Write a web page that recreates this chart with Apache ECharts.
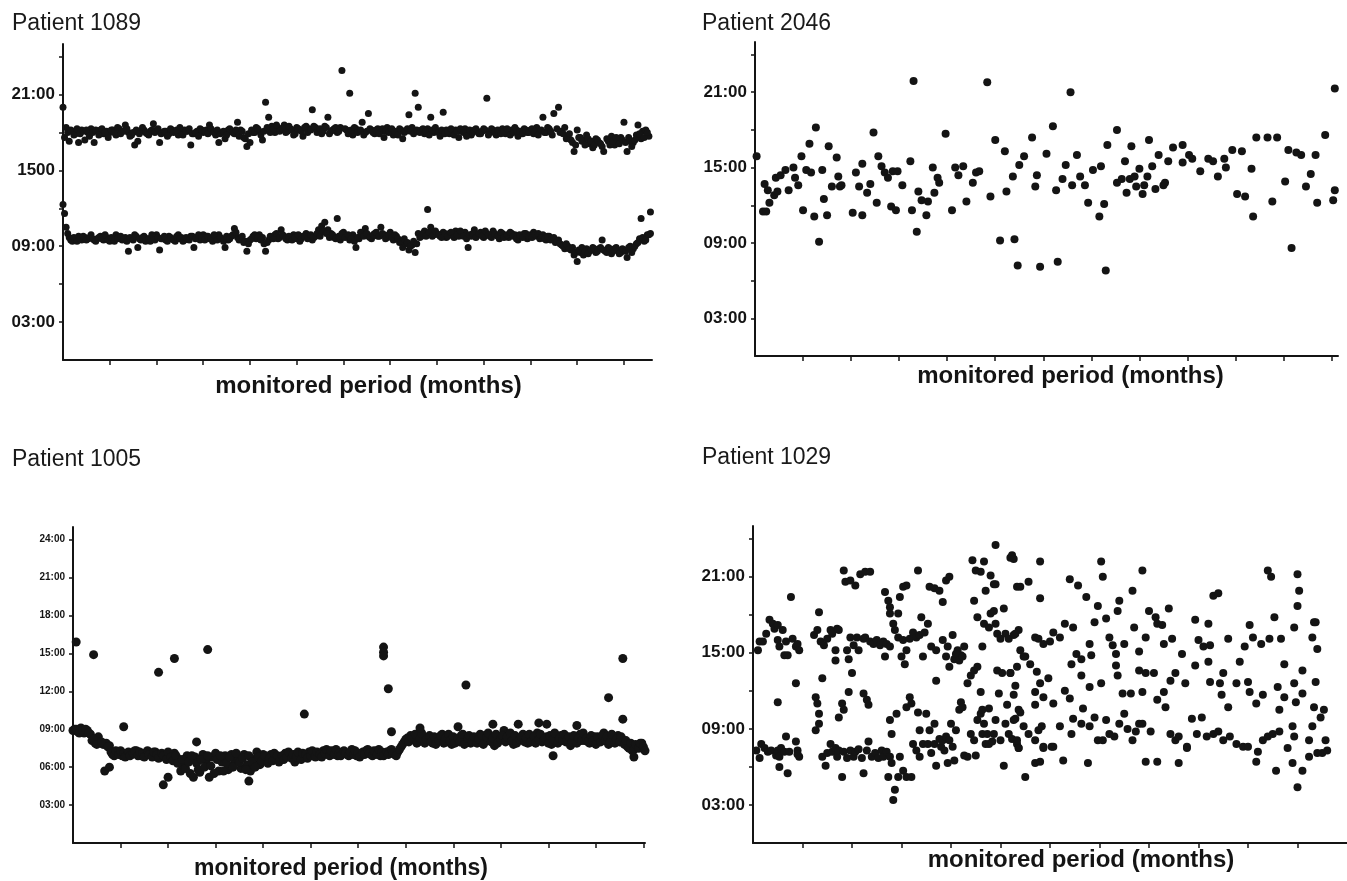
<!DOCTYPE html>
<html>
<head>
<meta charset="utf-8">
<script src="https://cdn.jsdelivr.net/npm/echarts@6/dist/echarts.min.js"></script>
<style>
html,body{margin:0;padding:0;background:#fff;}
#chart{width:1347px;height:881px;}
</style>
</head>
<body>
<div id="chart"></div>
<script>
// ---------- tick labels ----------
const monthTicks = [30,60,90,120,150,180,210,240,270,300,330,360];
const hourTicks = [3,6,9,12,15,18,21,24];
const sparseLabelHours = [3,9,15,21];
const p1HourLabels = ['03:00','09:00','1500','21:00'];
const p2HourLabels = ['03:00','09:00','15:00','21:00'];
const p4HourLabels = ['03:00','09:00','15:00','21:00'];
const p3HourLabels = ['03:00','06:00','09:00','12:00','15:00','18:00','21:00','24:00'];
const titles = ['Patient 1089','Patient 2046','Patient 1005','Patient 1029'];
const xName = 'monitored period (months)';

// ---------- data: [day of monitoring, clock hour] ----------
const p1Evening = [[0,20.0],[2,18.4],[4,17.3],[6,18.1],[8,17.9],[10,17.2],[12,18.2],[14,17.4],[16,18.0],[18,18.3],[20,17.2],[22,18.1],[24,18.2],[26,17.9],[28,18.1],[30,18.0],[32,18.2],[34,17.8],[36,18.3],[38,18.1],[40,18.6],[42,18.0],[44,17.8],[46,17.0],[48,17.3],[50,18.1],[52,18.2],[54,17.9],[56,18.1],[58,18.7],[60,18.2],[62,17.2],[64,18.0],[66,18.1],[68,17.9],[70,18.2],[72,18.1],[74,17.8],[76,18.0],[78,18.2],[80,18.1],[82,17.0],[84,17.9],[86,18.1],[88,18.3],[90,18.0],[92,18.2],[94,18.6],[96,18.1],[98,17.8],[100,17.2],[102,18.0],[104,17.5],[106,18.2],[108,18.1],[110,17.9],[112,18.8],[114,18.2],[116,17.6],[118,16.9],[120,17.2],[122,18.0],[124,18.4],[126,18.1],[128,17.4],[130,20.4],[132,19.2],[134,18.5],[136,18.0],[138,18.4],[140,18.2],[142,18.6],[144,18.1],[146,18.3],[148,17.8],[150,18.4],[152,18.2],[154,17.7],[156,18.5],[158,18.3],[160,19.8],[162,18.4],[164,18.2],[166,17.9],[168,18.5],[170,19.2],[172,18.1],[174,18.3],[176,18.0],[178,18.4],[179,22.9],[182,18.2],[184,21.1],[186,17.8],[188,18.3],[190,18.1],[192,18.8],[194,18.0],[196,19.5],[198,18.2],[200,17.9],[202,18.3],[204,18.1],[206,17.6],[208,18.4],[210,18.2],[212,17.8],[214,18.0],[216,18.3],[218,17.5],[220,18.1],[222,19.4],[224,18.4],[226,21.1],[228,20.0],[230,18.2],[232,17.9],[234,18.3],[236,19.2],[238,18.0],[240,18.1],[242,17.7],[244,19.6],[246,18.2],[248,17.9],[250,18.0],[252,18.2],[254,17.6],[256,18.1],[258,18.3],[260,18.0],[262,17.8],[264,18.2],[266,18.1],[268,17.9],[270,18.3],[272,20.7],[274,18.0],[276,18.2],[278,17.8],[280,18.1],[282,18.3],[284,17.9],[286,18.0],[288,18.2],[290,18.4],[292,17.7],[294,18.1],[296,18.3],[298,18.0],[300,18.2],[302,17.9],[304,18.4],[306,18.1],[308,19.2],[310,18.0],[312,18.3],[314,17.8],[315,19.5],[318,20.0],[320,18.1],[322,18.4],[324,17.7],[326,17.4],[328,16.5],[330,18.2],[332,17.6],[334,17.4],[336,17.8],[338,17.1],[340,16.8],[342,17.5],[344,17.2],[346,16.9],[347,16.5],[350,17.3],[352,17.7],[354,17.0],[356,17.4],[358,17.6],[360,18.8],[362,16.5],[364,17.3],[366,17.2],[368,17.8],[369,18.6],[371,17.5],[372,18.1],[374,18.2],[376,17.7]];
const p1EveningOdd = [[1,17.6],[3,18.0],[5,18.2],[7,17.8],[9,18.3],[11,17.9],[13,18.1],[15,18.2],[17,17.7],[19,18.0],[21,18.2],[23,17.8],[25,18.3],[27,18.0],[29,17.6],[31,18.2],[33,18.0],[35,18.4],[37,17.9],[39,18.1],[41,18.3],[43,17.7],[45,18.0],[47,18.2],[49,17.9],[51,18.4],[53,18.0],[55,17.8],[57,18.2],[59,18.0],[61,18.3],[63,17.9],[65,18.1],[67,17.7],[69,18.3],[71,18.0],[73,18.2],[75,18.4],[77,17.8],[79,18.1],[81,18.3],[83,17.9],[85,18.0],[87,17.7],[89,18.2],[91,18.1],[93,17.9],[95,18.3],[97,18.0],[99,18.2],[101,17.9],[103,18.1],[105,17.8],[107,18.3],[109,18.0],[111,18.2],[113,17.7],[115,18.1],[117,17.5],[119,17.9],[121,18.2],[123,18.0],[125,18.3],[127,17.8],[129,18.1],[131,18.4],[133,18.0],[135,18.3],[137,18.6],[139,18.1],[141,18.3],[143,18.0],[145,18.5],[147,18.2],[149,17.9],[151,18.3],[153,18.1],[155,18.4],[157,18.0],[159,18.2],[161,18.5],[163,18.0],[165,18.3],[167,18.1],[169,18.4],[171,17.9],[173,18.2],[175,18.4],[177,18.1],[181,18.3],[183,17.9],[185,18.2],[187,18.4],[189,18.0],[191,18.2],[193,17.8],[195,18.1],[197,18.3],[199,18.0],[201,18.2],[203,17.9],[205,18.3],[207,18.1],[209,18.0],[211,18.3],[213,18.1],[215,17.8],[217,18.2],[219,18.0],[221,18.3],[223,18.1],[225,17.9],[227,18.2],[229,18.0],[231,18.3],[233,18.1],[235,17.8],[237,18.2],[239,18.4],[241,18.0],[243,18.2],[245,17.9],[247,18.1],[249,18.3],[251,17.8],[253,18.1],[255,18.3],[257,18.0],[259,17.7],[261,18.2],[263,18.0],[265,18.3],[267,17.9],[269,18.1],[271,18.2],[273,17.8],[275,18.3],[277,18.0],[279,18.2],[281,17.9],[283,18.1],[285,18.3],[287,17.8],[289,18.0],[291,18.2],[293,18.1],[295,17.9],[297,18.2],[299,18.0],[301,18.3],[303,18.1],[305,17.8],[307,18.2],[309,18.0],[311,18.4],[313,18.1],[317,18.3],[319,18.0],[321,17.9],[323,17.5],[325,17.9],[327,17.2],[329,17.0],[331,17.6],[333,17.3],[335,17.0],[337,17.5],[339,17.3],[341,17.0],[343,17.4],[345,17.1],[349,17.5],[351,17.0],[353,17.3],[355,17.6],[357,17.1],[359,17.4],[361,17.2],[363,17.6],[365,16.9],[367,17.4],[370,17.9],[373,17.6],[375,18.0]];
const p1Morning = [[0,12.3],[1,11.6],[2,10.5],[3,10.0],[4,9.7],[6,9.4],[8,9.6],[10,9.8],[12,9.5],[14,9.7],[16,9.6],[18,9.9],[20,9.5],[22,9.6],[24,9.8],[26,9.5],[28,9.7],[30,9.4],[32,9.6],[34,9.9],[36,9.7],[38,9.5],[40,9.7],[42,8.6],[44,9.6],[46,9.9],[48,8.9],[50,9.5],[52,9.8],[54,9.6],[56,9.4],[58,9.7],[60,9.9],[62,8.7],[64,9.6],[66,9.5],[68,9.8],[70,9.6],[72,9.4],[74,9.9],[76,9.7],[78,9.5],[80,9.6],[82,9.8],[84,8.9],[86,9.7],[88,9.5],[90,9.9],[92,9.8],[94,9.6],[96,9.4],[98,9.7],[100,9.9],[102,9.6],[104,8.9],[106,9.5],[108,9.8],[110,10.4],[112,9.7],[114,9.6],[116,9.3],[118,8.6],[120,9.5],[122,9.8],[124,9.6],[126,9.9],[128,9.7],[130,8.6],[132,9.5],[134,9.7],[136,9.9],[138,9.6],[140,10.3],[142,9.8],[144,9.5],[146,9.7],[148,9.9],[150,9.6],[152,9.4],[154,9.8],[156,10.0],[158,9.7],[160,9.5],[162,9.8],[164,10.3],[166,10.6],[168,10.9],[170,10.3],[172,10.0],[174,9.7],[176,11.2],[178,9.5],[180,10.1],[182,9.8],[184,9.5],[186,9.9],[188,8.9],[190,9.6],[192,10.0],[194,10.4],[196,9.8],[198,9.6],[200,10.0],[202,9.8],[204,10.5],[206,9.9],[208,9.7],[210,10.1],[212,9.5],[214,9.8],[216,9.3],[218,8.9],[220,9.2],[222,8.7],[224,9.1],[226,8.5],[228,10.0],[230,9.8],[232,10.2],[234,11.9],[236,10.5],[238,9.9],[240,10.0],[242,9.8],[244,10.1],[246,9.7],[248,10.0],[250,9.9],[252,10.2],[254,9.8],[256,10.0],[258,10.1],[260,8.9],[262,9.8],[264,10.3],[266,9.9],[268,10.1],[270,9.7],[272,10.0],[274,9.8],[276,10.2],[278,9.9],[280,9.6],[282,10.0],[284,9.8],[286,9.7],[288,10.0],[290,9.9],[292,9.5],[294,9.8],[296,10.0],[298,9.6],[300,9.9],[302,10.1],[304,9.8],[306,9.6],[308,9.9],[310,9.5],[312,9.8],[314,9.6],[316,9.3],[318,9.5],[320,9.1],[322,8.8],[324,9.0],[326,8.7],[328,8.3],[330,7.8],[332,8.5],[334,8.3],[336,8.8],[338,8.6],[340,8.9],[342,8.5],[344,8.8],[346,9.5],[348,8.6],[350,8.9],[352,8.4],[354,8.8],[356,8.7],[358,8.5],[360,8.7],[362,8.1],[364,9.0],[366,8.8],[368,9.2],[370,9.6],[371,11.2],[373,9.4],[375,9.9],[377,11.7],[377,10.0]];
const p1MorningOdd = [[5,9.5],[7,9.7],[9,9.4],[11,9.6],[13,9.8],[15,9.5],[17,9.7],[19,9.6],[21,9.4],[23,9.7],[25,9.6],[27,9.9],[29,9.5],[31,9.7],[33,9.4],[35,9.6],[37,9.8],[39,9.6],[41,9.4],[43,9.7],[45,9.5],[47,9.8],[49,9.6],[51,9.7],[53,9.4],[55,9.6],[57,9.9],[59,9.5],[61,9.7],[63,9.6],[65,9.8],[67,9.4],[69,9.7],[71,9.5],[73,9.8],[75,9.6],[77,9.4],[79,9.7],[81,9.5],[83,9.8],[85,9.6],[87,9.9],[89,9.7],[91,9.5],[93,9.8],[95,9.6],[97,9.9],[99,9.5],[101,9.7],[103,9.4],[105,9.8],[107,9.6],[109,9.9],[111,10.1],[113,9.5],[115,9.8],[117,9.4],[119,9.2],[121,9.6],[123,9.9],[125,9.7],[127,9.5],[129,9.2],[131,9.3],[133,9.8],[135,9.6],[137,10.0],[139,9.7],[141,9.9],[143,9.6],[145,9.8],[147,9.5],[149,9.7],[151,9.9],[153,9.6],[155,9.8],[157,9.6],[159,9.9],[161,9.7],[163,10.0],[165,9.8],[167,10.2],[169,10.0],[171,9.7],[173,9.9],[175,9.6],[177,9.8],[179,10.0],[181,9.7],[183,9.9],[185,9.6],[187,9.4],[189,9.7],[191,10.1],[193,9.8],[195,10.0],[197,9.7],[199,9.9],[201,10.1],[203,9.8],[205,10.0],[207,9.6],[209,9.9],[211,9.7],[213,9.9],[215,9.6],[217,9.4],[219,9.6],[221,9.3],[223,9.0],[225,9.4],[227,9.2],[229,9.7],[231,10.0],[233,9.8],[235,10.1],[237,9.8],[239,10.2],[241,9.9],[243,9.7],[245,10.0],[247,9.8],[249,10.1],[251,9.7],[253,9.9],[255,10.2],[257,9.8],[259,9.6],[261,9.9],[263,10.0],[265,9.7],[267,10.0],[269,9.8],[271,10.2],[273,9.9],[275,9.7],[277,10.0],[279,9.8],[281,10.1],[283,9.7],[285,9.9],[287,10.1],[289,9.8],[291,9.6],[293,9.9],[295,9.7],[297,10.0],[299,9.8],[301,9.7],[303,9.9],[305,10.0],[307,9.7],[309,9.6],[311,9.8],[313,9.5],[315,9.7],[317,9.4],[319,9.2],[321,9.0],[323,9.2],[325,8.8],[327,8.9],[329,8.5],[331,8.7],[333,8.9],[335,8.6],[337,8.4],[339,8.7],[341,8.8],[343,8.6],[345,8.9],[347,8.7],[349,8.5],[351,8.8],[353,8.6],[355,8.9],[357,8.4],[359,8.8],[361,8.6],[363,8.9],[365,8.5],[367,9.0],[369,9.3],[372,9.7],[374,9.5],[376,9.9]];

const p2Points = [[1,15.9],[5,11.5],[7,11.5],[6,13.7],[8,13.2],[9,12.2],[12,12.8],[14,13.1],[13,14.2],[16,14.4],[19,14.8],[21,13.2],[24,15.0],[25,14.2],[27,13.6],[29,15.9],[30,11.6],[32,14.8],[34,16.9],[35,14.6],[37,11.1],[38,18.2],[40,9.1],[42,14.8],[43,12.5],[45,11.2],[46,16.7],[48,13.5],[51,15.8],[52,14.3],[53,13.5],[54,13.6],[61,11.4],[63,14.6],[65,13.5],[67,11.2],[67,15.3],[70,13.0],[72,13.7],[74,17.8],[76,12.2],[77,15.9],[79,15.1],[81,14.6],[83,14.2],[85,11.9],[86,14.7],[88,11.6],[89,14.7],[92,13.6],[97,15.5],[98,11.6],[99,21.9],[101,9.9],[102,13.1],[104,12.4],[107,11.2],[108,12.3],[111,15.0],[112,13.0],[114,14.2],[115,13.8],[119,17.7],[123,11.6],[125,15.0],[127,14.4],[130,15.1],[132,12.3],[136,13.8],[138,14.6],[140,14.7],[145,21.8],[147,12.7],[150,17.2],[153,9.2],[156,16.3],[157,13.1],[161,14.3],[162,9.3],[164,7.2],[165,15.2],[168,15.9],[173,17.4],[176,14.4],[175,13.5],[178,7.1],[182,16.1],[186,18.3],[188,13.2],[189,7.5],[192,14.1],[194,15.2],[197,21.0],[198,13.6],[201,16.0],[203,14.3],[206,13.6],[208,12.2],[211,14.8],[215,11.1],[216,15.1],[218,12.1],[219,6.8],[220,16.8],[226,18.0],[226,13.8],[229,14.1],[231,15.5],[232,13.0],[234,14.1],[235,16.7],[237,14.3],[238,13.5],[240,14.9],[242,12.9],[243,13.6],[245,14.3],[246,17.2],[248,15.1],[250,13.3],[252,16.0],[255,13.6],[256,13.8],[258,15.5],[261,16.6],[267,16.8],[267,15.4],[271,16.0],[273,15.7],[278,14.7],[283,15.7],[286,15.5],[289,14.3],[293,15.7],[294,15.0],[298,16.4],[301,12.9],[304,16.3],[306,12.7],[310,14.9],[311,11.1],[313,17.4],[320,17.4],[323,12.3],[326,17.4],[331,13.9],[333,16.4],[335,8.6],[338,16.2],[341,16.0],[344,13.5],[347,14.5],[350,16.0],[351,12.2],[356,17.6],[361,12.4],[362,13.2],[362,21.3]];

const p3Band = [[0,8.9],[1,9.0],[3,8.8],[5,9.1],[7,8.7],[9,8.9],[11,8.6],[12,8.1],[14,7.9],[16,8.4],[17,8.0],[19,7.8],[21,7.9],[23,7.7],[20,5.7],[23,6.0],[25,7.0],[28,7.2],[31,6.9],[34,7.1],[37,7.0],[40,7.3],[43,6.9],[46,7.1],[49,7.0],[52,7.2],[55,6.8],[58,7.0],[61,6.7],[64,7.1],[67,6.6],[68,5.7],[70,6.0],[72,6.9],[74,5.5],[76,5.2],[77,6.8],[80,5.6],[82,7.0],[84,6.5],[86,5.2],[88,6.8],[90,7.1],[92,5.7],[94,6.4],[96,6.9],[98,5.8],[100,7.0],[102,6.5],[104,6.8],[106,5.9],[108,7.0],[110,6.2],[112,5.7],[114,6.6],[116,7.2],[118,6.2],[120,7.0],[122,6.5],[125,7.0],[128,6.8],[131,6.6],[134,7.1],[137,6.9],[140,6.4],[143,7.0],[146,6.8],[149,7.2],[152,7.0],[155,6.9],[158,7.3],[161,7.0],[164,7.1],[167,6.9],[170,7.2],[173,7.0],[176,7.4],[179,6.9],[182,7.1],[185,7.3],[188,7.0],[191,7.2],[194,6.9],[197,7.1],[200,7.3],[203,7.0],[205,7.2],[207,7.6],[209,8.0],[211,8.3],[213,8.5],[215,8.2],[218,8.0],[221,8.4],[224,8.1],[227,7.9],[230,8.3],[233,8.6],[236,8.0],[239,7.8],[242,8.2],[245,8.5],[248,8.1],[251,7.9],[254,8.3],[257,8.6],[260,8.0],[263,8.2],[266,7.7],[269,8.4],[272,8.9],[275,8.1],[278,7.8],[281,8.3],[284,8.6],[287,7.9],[290,8.2],[293,8.7],[296,8.0],[299,8.4],[302,7.8],[305,8.2],[308,8.5],[311,8.0],[314,7.7],[317,8.3],[320,8.6],[323,8.1],[326,7.9],[329,8.4],[332,8.2],[335,8.7],[338,7.8],[341,8.3],[344,8.5],[347,8.0],[350,7.6],[353,7.3],[356,7.7],[359,7.9],[362,7.5]];
const p3BandExtra = [[2,9.0],[4,8.7],[6,8.9],[8,9.0],[10,8.7],[13,8.2],[15,7.8],[18,8.0],[22,7.6],[24,7.2],[26,6.9],[27,7.3],[29,7.0],[30,7.3],[32,7.1],[33,6.8],[35,7.2],[36,6.9],[38,7.1],[39,7.3],[41,6.9],[42,7.2],[44,7.1],[45,6.8],[47,7.3],[48,7.0],[50,6.8],[51,7.2],[53,7.0],[54,6.7],[56,7.1],[57,6.9],[59,6.6],[60,7.2],[62,6.8],[63,6.5],[65,6.9],[66,6.3],[69,6.6],[71,5.9],[73,6.4],[75,6.9],[78,6.3],[79,5.8],[81,6.6],[83,6.0],[85,6.9],[87,6.1],[89,5.5],[91,6.6],[93,6.9],[95,5.7],[97,6.3],[99,6.8],[101,6.0],[103,7.1],[105,6.4],[107,6.7],[109,5.8],[111,6.9],[113,6.4],[115,6.0],[117,6.8],[119,6.5],[121,6.9],[123,6.3],[124,6.7],[126,6.5],[127,7.1],[129,6.9],[130,6.4],[132,6.9],[133,6.6],[135,6.8],[136,7.2],[138,6.7],[139,7.0],[141,6.8],[142,7.2],[144,6.6],[145,7.1],[147,7.0],[148,6.7],[150,6.9],[151,7.3],[153,6.8],[154,7.2],[156,7.0],[157,6.8],[159,7.1],[160,7.4],[162,6.9],[163,7.3],[165,7.0],[166,7.4],[168,7.1],[169,6.9],[171,7.3],[172,7.1],[174,6.9],[175,7.2],[177,7.0],[178,7.3],[180,7.1],[181,6.8],[183,7.2],[184,7.0],[186,7.4],[187,7.1],[189,6.9],[190,7.3],[192,7.0],[193,7.4],[195,7.2],[196,6.9],[198,7.2],[199,7.0],[201,7.4],[202,7.1],[204,6.9],[206,7.4],[208,7.8],[210,8.2],[212,8.0],[214,8.3],[216,8.6],[217,7.9],[219,8.3],[220,8.7],[222,7.9],[223,8.2],[225,8.5],[226,8.0],[228,8.4],[229,7.8],[231,8.1],[232,8.5],[234,7.9],[235,8.3],[237,8.6],[238,8.1],[240,8.4],[241,7.9],[243,8.3],[244,8.0],[246,8.6],[247,7.8],[249,8.3],[250,8.5],[252,8.0],[253,8.4],[255,7.9],[256,8.2],[258,8.5],[259,7.8],[261,8.4],[262,8.7],[264,8.0],[265,8.3],[267,8.6],[268,7.9],[270,8.2],[271,8.5],[273,8.0],[274,8.4],[276,8.7],[277,8.1],[279,8.5],[280,7.9],[282,8.2],[283,8.4],[285,8.0],[286,8.3],[288,8.6],[289,8.0],[291,8.4],[292,7.9],[294,8.2],[295,8.6],[297,8.1],[298,8.3],[300,7.9],[301,8.5],[303,8.2],[304,8.7],[306,7.9],[307,8.3],[309,8.1],[310,8.6],[312,8.2],[313,8.4],[315,8.0],[316,8.5],[318,7.9],[319,8.3],[321,8.1],[322,8.7],[324,8.3],[325,8.0],[327,8.5],[328,8.1],[330,7.8],[331,8.4],[333,8.0],[334,8.5],[336,8.1],[337,8.4],[339,8.0],[340,8.6],[342,7.9],[343,8.2],[345,8.0],[346,8.4],[348,7.8],[349,8.1],[351,7.5],[352,7.9],[354,7.4],[355,7.8],[357,7.5],[358,7.9],[360,7.6],[361,7.3]];
const p3Outliers = [[2,15.9],[13,14.9],[54,13.5],[64,14.6],[85,15.3],[32,9.2],[78,8.0],[146,10.2],[57,4.6],[60,5.2],[111,4.9],[196,15.5],[196,15.1],[196,14.8],[199,12.2],[201,8.8],[248,12.5],[219,9.1],[347,14.6],[338,11.5],[347,9.8],[243,9.2],[265,9.4],[281,9.4],[294,9.5],[299,9.4],[318,9.3],[303,6.9],[354,6.8]];

const p4Early = [[2,7.3],[4,6.7],[5,7.8],[7,7.5],[9,7.2],[11,7.3],[14,6.9],[15,7.3],[16,6.8],[17,7.5],[16,6.0],[20,8.4],[21,5.5],[19,7.2],[22,7.2],[26,8.0],[27,7.3],[28,6.8],[27,7.0],[15,11.1],[26,12.6],[3,15.2],[4,15.9],[6,15.9],[8,16.5],[10,17.6],[12,17.3],[13,16.9],[15,17.2],[15,16.0],[16,15.5],[18,16.8],[19,14.8],[20,15.9],[21,14.8],[23,19.4],[24,16.1],[26,15.5],[27,15.7],[28,15.2],[42,6.8],[44,6.1],[45,7.1],[47,7.8],[48,7.2],[50,7.5],[51,6.8],[52,7.3],[54,5.2],[55,7.2],[57,6.7],[59,7.3],[61,6.8],[62,7.2],[64,7.4],[66,6.7],[67,5.5],[69,7.3],[70,8.0],[72,6.8],[74,7.1],[76,6.7],[78,7.3],[79,6.8],[81,7.2],[82,5.2],[83,6.8],[38,11.5],[39,11.0],[40,10.2],[40,9.4],[38,8.9],[42,13.0],[52,9.9],[54,11.0],[55,10.5],[58,11.9],[60,13.4],[67,11.8],[69,11.3],[70,10.9],[37,16.4],[39,16.8],[40,18.2],[41,15.9],[43,15.6],[45,16.1],[47,16.8],[48,16.5],[51,16.9],[52,16.8],[50,15.2],[50,14.4],[57,15.2],[58,14.5],[59,16.2],[61,15.6],[63,16.2],[64,15.2],[67,16.1],[68,16.2],[71,15.9],[73,15.7],[75,16.0],[77,15.6],[79,15.9],[81,15.7],[83,15.5],[80,14.7],[55,21.5],[56,20.6],[59,20.7],[62,20.3],[65,21.2],[68,21.4],[71,21.4]];
const p4Middle = [[80,19.8],[82,19.1],[83,18.1],[83,18.6],[89,19.4],[88,18.1],[91,20.2],[93,20.3],[85,17.3],[86,16.8],[88,16.2],[91,16.0],[93,15.2],[90,14.7],[92,14.1],[95,16.1],[97,16.6],[99,16.2],[101,16.4],[100,21.5],[102,17.8],[103,14.7],[83,9.7],[84,8.6],[87,10.2],[93,10.7],[95,11.5],[96,11.0],[100,10.3],[84,6.3],[89,6.8],[88,5.2],[86,4.2],[85,3.4],[91,5.7],[93,5.2],[96,5.2],[97,7.8],[99,7.3],[101,8.9],[101,6.8],[103,7.8],[105,10.2],[107,8.9],[106,7.8],[108,7.1],[110,9.4],[110,7.8],[111,6.1],[113,8.2],[114,7.6],[115,8.1],[116,7.3],[117,8.4],[118,6.3],[119,8.1],[120,9.4],[121,7.6],[122,6.5],[123,8.9],[125,10.5],[126,11.1],[127,10.7],[128,6.9],[130,6.8],[132,8.6],[134,8.1],[135,6.9],[136,9.7],[138,10.2],[139,8.6],[140,9.4],[141,7.8],[142,8.6],[143,7.8],[145,8.0],[146,8.6],[147,9.7],[150,8.1],[152,6.1],[153,9.4],[155,8.6],[157,8.2],[159,9.8],[160,7.8],[161,7.5],[111,12.8],[119,13.9],[122,14.5],[124,15.2],[126,14.8],[128,15.5],[130,12.6],[132,13.2],[134,13.6],[136,13.9],[138,11.9],[139,10.5],[143,10.6],[148,13.6],[149,11.8],[151,13.4],[154,10.9],[156,13.4],[158,11.7],[161,10.5],[159,12.4],[104,16.6],[106,17.3],[108,15.5],[111,15.2],[115,16.0],[117,14.7],[118,15.5],[121,16.4],[123,14.9],[125,14.4],[127,14.7],[136,17.8],[139,15.5],[140,17.3],[143,17.0],[144,18.1],[146,18.3],[147,17.3],[148,16.5],[150,16.1],[152,18.5],[153,16.5],[155,16.1],[158,16.4],[161,16.8],[107,20.2],[110,20.1],[113,19.9],[115,19.0],[117,20.7],[119,21.0],[133,22.3],[135,21.5],[138,21.4],[140,22.2],[141,19.9],[144,21.1],[146,20.4],[147,20.4],[156,22.5],[157,22.7],[160,20.2],[147,23.5],[134,19.1]];
const p4Late = [[158,22.4],[174,22.2],[211,22.2],[212,21.0],[236,21.5],[312,21.5],[314,21.0],[330,21.2],[331,19.9],[330,18.7],[162,20.2],[167,20.6],[174,19.3],[192,20.8],[197,20.3],[202,19.4],[209,18.7],[222,19.1],[221,18.3],[230,19.9],[240,18.3],[244,17.8],[252,18.5],[279,19.5],[282,19.7],[316,17.8],[340,17.4],[328,17.0],[159,16.5],[162,15.2],[165,14.7],[168,14.1],[171,16.2],[173,16.1],[176,15.7],[180,15.9],[182,16.6],[186,16.2],[189,17.3],[194,17.0],[196,14.9],[193,14.1],[199,14.5],[204,15.7],[205,14.8],[207,17.4],[214,17.7],[216,16.2],[218,15.6],[220,14.9],[225,15.7],[231,17.0],[234,15.1],[238,16.2],[245,17.3],[248,17.2],[249,15.7],[254,16.1],[260,14.9],[268,17.6],[270,16.0],[276,17.3],[273,15.5],[277,15.6],[288,16.1],[298,15.5],[301,17.2],[303,16.2],[308,15.7],[313,16.1],[320,16.1],[339,16.2],[342,15.3],[341,17.4],[156,13.4],[160,13.9],[164,14.7],[172,13.5],[179,13.0],[174,12.6],[171,11.9],[176,11.5],[182,11.0],[171,10.9],[189,12.0],[192,11.4],[199,13.2],[204,12.3],[211,12.6],[220,14.0],[221,13.2],[224,11.8],[229,11.8],[234,13.6],[236,11.9],[238,13.4],[243,13.4],[245,11.3],[249,11.9],[250,10.7],[253,12.8],[256,13.4],[262,12.6],[268,14.0],[276,14.3],[277,12.7],[283,12.6],[284,11.7],[288,10.7],[285,13.4],[293,12.6],[295,14.3],[300,12.7],[301,11.9],[305,11.0],[309,11.7],[318,12.3],[322,14.1],[322,11.5],[319,10.5],[328,12.6],[329,11.1],[333,13.6],[333,11.8],[341,12.7],[340,10.7],[158,9.7],[162,10.3],[164,9.2],[167,8.6],[171,8.1],[173,8.9],[175,9.2],[176,7.6],[181,7.6],[186,9.2],[193,8.6],[194,9.8],[199,9.4],[200,10.6],[204,9.2],[207,9.9],[209,8.1],[212,8.1],[214,9.7],[216,8.6],[219,8.4],[222,9.4],[225,10.2],[227,9.0],[230,8.1],[234,9.4],[236,9.4],[232,8.8],[241,8.8],[253,8.6],[256,8.1],[258,8.4],[263,7.5],[266,9.8],[269,8.6],[272,9.9],[275,8.4],[279,8.6],[282,8.8],[285,8.1],[289,8.4],[293,7.8],[297,7.6],[300,7.6],[306,7.2],[309,8.1],[312,8.4],[315,8.6],[319,8.8],[324,7.5],[327,9.2],[328,8.4],[337,8.1],[339,9.2],[344,9.9],[346,10.5],[347,8.1],[345,7.1],[348,7.3],[342,7.1],[160,8.1],[161,7.5],[165,5.2],[171,6.3],[174,6.4],[176,7.5],[182,7.6],[188,6.5],[203,6.3],[238,6.4],[245,6.4],[258,6.3],[263,7.6],[305,6.4],[317,5.7],[327,6.3],[333,5.7],[330,4.4],[337,6.8]];

// ---------- chart ----------
const chart = echarts.init(document.getElementById('chart'), null, {renderer:'canvas'});
const INK = '#141414';
const labelFont = "'Liberation Sans', Arial, sans-serif";

function makeX(gridIndex, max, gap, padding, size){
  return {
    type:'value', gridIndex, min:0, max,
    axisLine:{show:true, onZero:false, lineStyle:{color:INK, width:2}},
    axisTick:{show:true, length:5, customValues:monthTicks.filter(v=>v<max), lineStyle:{color:INK, width:1.5}},
    axisLabel:{show:false}, splitLine:{show:false},
    name:xName, nameLocation:'middle', nameGap:gap,
    nameTextStyle:{color:INK, fontWeight:'bold', fontSize:size, fontFamily:labelFont, padding}
  };
}
function makeY(gridIndex, labelVals, labelTexts, fontSize){
  return {
    type:'value', gridIndex, min:0, max:25,
    axisLine:{show:true, onZero:false, lineStyle:{color:INK, width:2}},
    axisTick:{show:true, length:4, customValues:hourTicks, lineStyle:{color:INK, width:1.5}},
    axisLabel:{show:true, customValues:labelVals, margin:8, color:INK, fontWeight:'bold', fontSize, fontFamily:labelFont,
      formatter:(v)=>{const i=labelVals.indexOf(Math.round(v)); return i>=0?labelTexts[i]:'';}},
    splitLine:{show:false}
  };
}
function sc(xi, data, size){
  return {type:'scatter', xAxisIndex:xi, yAxisIndex:xi, data, symbol:'circle', symbolSize:size,
    itemStyle:{color:INK, opacity:1}, silent:true, animation:false, large:false};
}

const titleStyle = {fontFamily:labelFont, fontWeight:'normal', fontSize:23, color:'#1a1a1a'};
const option = {
  backgroundColor:'#ffffff',
  animation:false,
  title:[
    {text:titles[0], left:7, top:7, textStyle:titleStyle},
    {text:titles[1], left:697, top:7, textStyle:titleStyle},
    {text:titles[2], left:7, top:443, textStyle:titleStyle},
    {text:titles[3], left:697, top:441, textStyle:titleStyle}
  ],
  grid:[
    {left:63, top:44, width:589, height:316},
    {left:755, top:42, width:583, height:314},
    {left:73, top:527, width:572, height:319},
    {left:753, top:526, width:594, height:317}
  ],
  xAxis:[
    makeX(0, 378, 14, [0,0,0,22], 24),
    makeX(1, 364, 8, [0,0,0,48], 24),
    makeX(2, 361, 14, [0,36,0,0], 23),
    makeX(3, 360, 5, [0,0,0,62], 24)
  ],
  yAxis:[
    makeY(0, sparseLabelHours, p1HourLabels, 17),
    makeY(1, sparseLabelHours, p2HourLabels, 17),
    makeY(2, hourTicks, p3HourLabels, 10),
    makeY(3, sparseLabelHours, p4HourLabels, 17)
  ],
  series:[
    sc(0, p1Evening, 7), sc(0, p1EveningOdd, 7), sc(0, p1Morning, 7), sc(0, p1MorningOdd, 7),
    sc(1, p2Points, 8),
    sc(2, p3Band, 9), sc(2, p3BandExtra, 9), sc(2, p3Outliers, 9),
    sc(3, p4Early, 8), sc(3, p4Middle, 8), sc(3, p4Late, 8)
  ]
};
chart.setOption(option);
</script>
</body>
</html>
